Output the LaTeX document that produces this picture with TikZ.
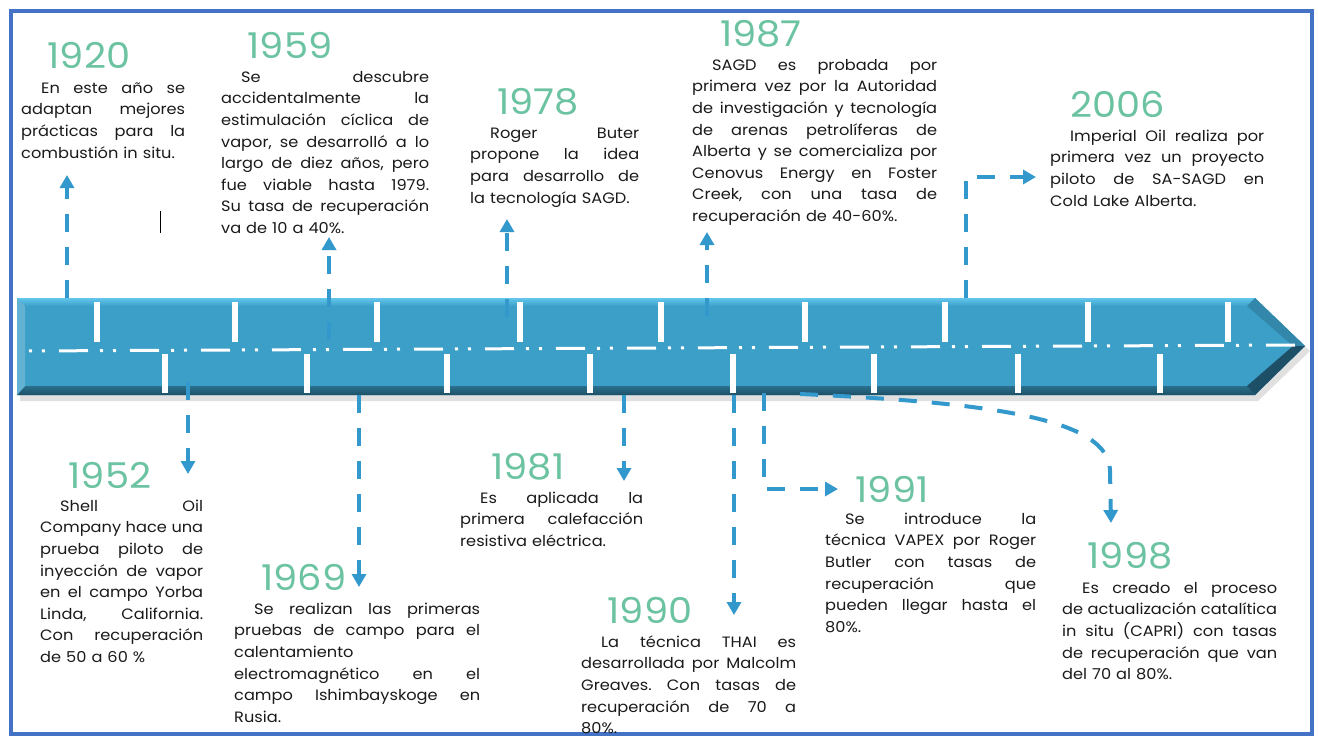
\documentclass[tikz,border=0pt]{standalone}
\usepackage{fontspec}
\setmainfont{Poppins}[FakeStretch=1.08]
\usetikzlibrary{arrows.meta}
\definecolor{frameblue}{HTML}{4472C4}
\definecolor{bandblue}{HTML}{3C9FC8}
\definecolor{bandlight}{HTML}{63C6EC}
\definecolor{banddark}{HTML}{1D4F66}
\definecolor{connblue}{HTML}{3399CC}
\definecolor{yearcol}{HTML}{6CC3A2}
\definecolor{txtcol}{HTML}{1A1A1A}
\frenchspacing
\newcommand\ind{\hspace*{20pt}}
\newcommand\jl[2]{\leavevmode\hbox to #1pt{\spaceskip=4.5pt plus 60pt minus 1.5pt\relax #2}}
\tikzset{
  yearlabel/.style={text=yearcol, font=\fontsize{35.5}{37}\selectfont, inner sep=0pt, anchor=center},
  bodytext/.style={text=txtcol, font=\fontsize{15}{21.6}\selectfont\frenchspacing, text width=#1pt,
    align=left, inner sep=0pt, anchor=north west},
  linkarrow/.style={draw=connblue, line width=4pt, dash pattern=on 18pt off 15pt,
    -{Triangle[width=14pt,length=13pt]}},
  tickmark/.style={fill=white}
}
\begin{document}
\begin{tikzpicture}[x=1pt,y=-1pt]
\useasboundingbox (0,0) rectangle (1318,737);
\fill[white] (0,0) rectangle (1318,737);
\draw[frameblue, line width=4pt] (11,11) rectangle (1312,734);

% band shadow
\fill[black!12] (20,303) -- (1258,303) -- (1310,351) -- (1258,401) -- (20,401) -- cycle;
% band
\fill[bandblue] (17,298) -- (1255,298) -- (1305,346) -- (1255,395) -- (17,395) -- cycle;
\shade[top color=bandlight, bottom color=bandblue] (17,298) -- (1255,298) -- (1247,306) -- (25,306) -- cycle;
\shade[top color=bandblue!70!black, bottom color=banddark] (25,386) -- (1247,386) -- (1255,395) -- (17,395) -- cycle;
\fill[bandblue!80!white] (17,298) -- (25,306) -- (25,386) -- (17,395) -- cycle;
\fill[bandblue!85!black] (1255,298) -- (1305,346) -- (1293,346) -- (1247,306) -- cycle;
\fill[banddark] (1247,386) -- (1293,346) -- (1305,346) -- (1255,395) -- cycle;
% ticks
\foreach \x in {97,235,377,520,661,805,945,1088,1228}
  \fill[tickmark] ({\x-3},302) rectangle ({\x+3},342);
\foreach \x in {165,307,447,590,733,874,1018,1160}
  \fill[tickmark] ({\x-3},354) rectangle ({\x+3},393);
\draw[white, line width=3pt, dash pattern=on 29pt off 12pt on 3pt off 10pt on 3pt off 14pt, dash phase=34pt]
  (22,351) -- (1298,345);

% cursor mark
\draw[black, line width=1pt] (160,211) -- (160,233);

% years
\node[yearlabel] (y1920) at (89,55) {1920};
\node[yearlabel] (y1959) at (290,45) {1959};
\node[yearlabel] (y1978) at (538,102) {1978};
\node[yearlabel] (y1987) at (761,34) {1987};
\node[yearlabel] (y2006) at (1118,104) {2006};
\node[yearlabel] (y1952) at (110,475) {1952};
\node[yearlabel] (y1969) at (304,577) {1969};
\node[yearlabel] (y1981) at (528,467) {1981};
\node[yearlabel] (y1990) at (650,610) {1990};
\node[yearlabel] (y1991) at (892,489) {1991};
\node[yearlabel] (y1998) at (1130,556) {1998};

% texts
\node[bodytext=164] (t1920) at (21,78) {\strut\jl{164}{\ind En este año se}\\\jl{164}{adaptan mejores}\\\jl{164}{prácticas para la}\\combustión in situ.};
\node[bodytext=208] (t1959) at (221,67) {\strut\jl{208}{\ind Se descubre}\\\jl{208}{accidentalmente la}\\\jl{208}{estimulación cíclica de}\\\jl{208}{vapor, se desarrolló a lo}\\\jl{208}{largo de diez años, pero}\\\jl{208}{fue viable hasta 1979.}\\\jl{208}{Su tasa de recuperación}\\va de 10 a 40\%.};
\node[bodytext=169] (t1978) at (470,123) {\strut\jl{169}{\ind Roger Buter}\\\jl{169}{propone la idea}\\\jl{169}{para desarrollo de}\\la tecnología SAGD.};
\node[bodytext=245] (t1987) at (692,55) {\strut\jl{245}{\ind SAGD es probada por}\\\jl{245}{primera vez por la Autoridad}\\\jl{245}{de investigación y tecnología}\\\jl{245}{de arenas petrolíferas de}\\\jl{245}{Alberta y se comercializa por}\\\jl{245}{Cenovus Energy en Foster}\\\jl{245}{Creek, con una tasa de}\\recuperación de 40-60\%.};
\node[bodytext=214] (t2006) at (1050,126) {\strut\jl{214}{\ind Imperial Oil realiza por}\\\jl{214}{primera vez un proyecto}\\\jl{214}{piloto de SA-SAGD en}\\Cold Lake Alberta.};
\node[bodytext=163] (t1952) at (40,496) {\strut\jl{163}{\ind Shell Oil}\\\jl{163}{Company hace una}\\\jl{163}{prueba piloto de}\\\jl{163}{inyección de vapor}\\\jl{163}{en el campo Yorba}\\\jl{163}{Linda, California.}\\\jl{163}{Con recuperación}\\de 50 a 60 \%};
\node[bodytext=246] (t1969) at (234,599) {\strut\jl{246}{\ind Se realizan las primeras}\\\jl{246}{pruebas de campo para el}\\calentamiento\\\jl{246}{electromagnético en el}\\\jl{246}{campo Ishimbayskoge en}\\Rusia.};
\node[bodytext=183] (t1981) at (460,488) {\strut\jl{183}{\ind Es aplicada la}\\\jl{183}{primera calefacción}\\resistiva eléctrica.};
\node[bodytext=215] (t1990) at (581,632) {\strut\jl{215}{\ind La técnica THAI es}\\\jl{215}{desarrollada por Malcolm}\\\jl{215}{Greaves. Con tasas de}\\\jl{215}{recuperación de 70 a}\\80\%.};
\node[bodytext=211] (t1991) at (825,509) {\strut\jl{211}{\ind Se introduce la}\\\jl{211}{técnica VAPEX por Roger}\\\jl{211}{Butler con tasas de}\\\jl{211}{recuperación que}\\\jl{211}{pueden llegar hasta el}\\80\%.};
\node[bodytext=215] (t1998) at (1062,578) {\strut\jl{215}{\ind Es creado el proceso}\\\jl{215}{de actualización catalítica}\\\jl{215}{in situ (CAPRI) con tasas}\\\jl{215}{de recuperación que van}\\del 70 al 80\%.};

% connector anchors
\coordinate (s1920) at (67,298);  \coordinate (e1920) at (67,175);
\coordinate (s1959) at (329,340); \coordinate (e1959) at (329,237);
\coordinate (s1978) at (507,317); \coordinate (e1978) at (507,219);
\coordinate (s1987) at (707,316); \coordinate (e1987) at (707,232);
\coordinate (s2006) at (966,298); \coordinate (c2006) at (966,177); \coordinate (e2006) at (1036,177);
\coordinate (s1952) at (188,382); \coordinate (e1952) at (188,474);
\coordinate (s1969) at (359,395); \coordinate (e1969) at (359,587);
\coordinate (s1981) at (624,395); \coordinate (e1981) at (624,481);
\coordinate (s1990) at (734,395); \coordinate (e1990) at (734,615);
\coordinate (s1991) at (764,393); \coordinate (c1991) at (764,489); \coordinate (e1991) at (838,489);
\coordinate (s1998) at (800,394); \coordinate (c1998) at (1110,470); \coordinate (e1998) at (1111,523);

\draw[linkarrow] (s1920) -- (e1920);
\draw[linkarrow] (s1959) -- (e1959);
\draw[linkarrow] (s1978) -- (e1978);
\draw[linkarrow] (s1987) -- (e1987);
\draw[linkarrow] (s2006) -- (c2006) -- (e2006);
\draw[linkarrow] (s1952) -- (e1952);
\draw[linkarrow] (s1969) -- (e1969);
\draw[linkarrow] (s1981) -- (e1981);
\draw[linkarrow] (s1990) -- (e1990);
\draw[linkarrow] (s1991) -- (c1991) -- (e1991);
\draw[linkarrow] (s1998) .. controls (1000,403) and (1108,420) .. (c1998) -- (e1998);
\end{tikzpicture}
\end{document}
